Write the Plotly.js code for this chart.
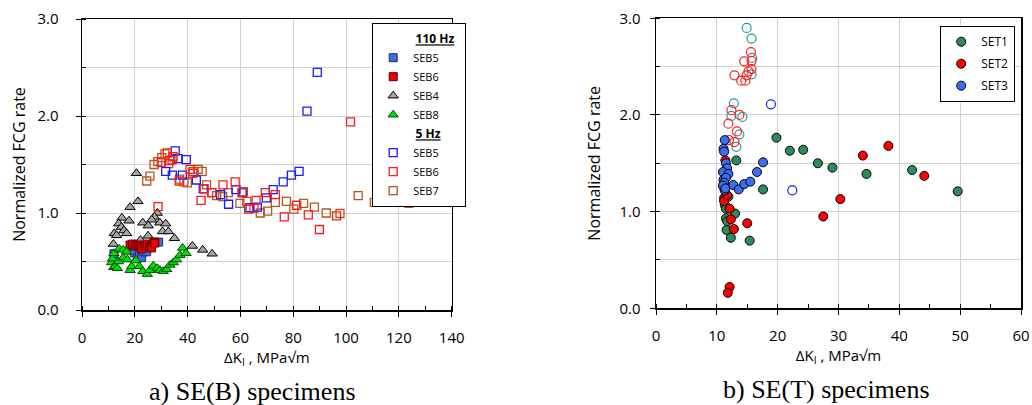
<!DOCTYPE html>
<html>
<head>
<meta charset="utf-8">
<script src="https://cdn.plot.ly/plotly-3.0.1.min.js"></script>
<style>html,body{margin:0;padding:0;background:#fff;}#chart{width:1032px;height:405px;}</style>
</head>
<body>
<div id="chart"></div>
<script>
// ---------- (a) SE(B) specimens ----------
const seb5_110_x = [12.1, 18.2, 19.8, 20.9, 21.7, 22.6, 23.2, 24.5, 29.0];
const seb5_110_y = [0.58, 0.62, 0.59, 0.535, 0.58, 0.54, 0.60, 0.60, 0.70];
const seb6_110_x = [18.2, 19.2, 20.4, 21.3, 22.0, 22.6, 23.9, 24.7, 25.7, 26.3, 27.3, 27.6];
const seb6_110_y = [0.67, 0.68, 0.66, 0.67, 0.65, 0.63, 0.66, 0.68, 0.655, 0.64, 0.70, 0.69];
const seb4_110_x = [20.6, 21.2, 18.2, 28.5, 27.4, 26.4, 15.1, 17.8, 13.9, 14.9, 15.9, 12.2, 16.9, 13.1, 11.9, 23.0, 25.1, 29.5, 31.7, 30.5, 32.7, 25.0, 35.0, 22.1, 41.8, 45.7, 49.3];
const seb4_110_y = [1.41, 1.12, 1.06, 1.00, 0.96, 0.93, 0.95, 0.92, 0.89, 0.855, 0.82, 0.79, 0.79, 0.77, 0.68, 0.90, 0.87, 0.90, 0.89, 0.81, 0.81, 0.765, 0.74, 0.72, 0.66, 0.62, 0.58];
const seb8_110_x = [11.2, 11.5, 12.0, 12.1, 12.5, 13.4, 13.8, 14.1, 15.6, 15.6, 16.9, 17.2, 18.2, 18.8, 20.4, 21.7, 23.0, 24.7, 25.7, 27.0, 28.5, 29.5, 30.8, 32.1, 33.3, 34.6, 35.8, 37.1, 38.1, 39.4];
const seb8_110_y = [0.49, 0.53, 0.44, 0.585, 0.45, 0.43, 0.50, 0.63, 0.62, 0.54, 0.60, 0.52, 0.41, 0.45, 0.51, 0.45, 0.40, 0.37, 0.41, 0.455, 0.43, 0.41, 0.40, 0.42, 0.465, 0.49, 0.52, 0.565, 0.64, 0.585];
const seb5_5_x = [31.7, 34.2, 35.3, 36.3, 38.0, 39.5, 43.3, 45.9, 52.5, 55.5, 58.3, 60.8, 63.6, 66.4, 69.8, 72.4, 76.2, 79.3, 82.2, 85.2, 89.1];
const seb5_5_y = [1.43, 1.39, 1.64, 1.56, 1.39, 1.55, 1.34, 1.25, 1.19, 1.09, 1.24, 1.21, 1.055, 1.06, 1.155, 1.24, 1.32, 1.39, 1.43, 2.05, 2.45];
const seb6_5_x = [28.8, 30.0, 32.3, 33.3, 34.5, 36.8, 40.9, 41.9, 45.1, 46.3, 49.2, 53.4, 58.0, 60.6, 63.1, 65.9, 69.4, 73.2, 76.6, 81.3, 85.7, 89.9, 96.4, 101.7];
const seb6_5_y = [1.065, 1.52, 1.62, 1.54, 1.58, 1.33, 1.45, 1.41, 1.13, 1.25, 1.21, 1.29, 1.32, 1.21, 1.04, 1.13, 1.21, 1.19, 0.96, 1.08, 0.98, 0.83, 0.97, 1.94];
const seb7_5_x = [24.5, 25.7, 27.3, 28.7, 30.2, 31.4, 32.8, 34.1, 37.0, 38.6, 39.9, 42.1, 44.0, 45.5, 47.2, 49.1, 51.0, 53.3, 55.4, 59.8, 61.1, 62.4, 65.1, 67.5, 70.3, 73.2, 77.4, 80.2, 83.9, 88.0, 92.5, 97.7, 104.6, 110.7, 117.1, 123.8];
const seb7_5_y = [1.33, 1.38, 1.50, 1.53, 1.57, 1.61, 1.51, 1.55, 1.35, 1.32, 1.31, 1.43, 1.45, 1.43, 1.29, 1.21, 1.18, 1.17, 1.21, 1.10, 1.22, 1.12, 1.05, 1.00, 1.02, 1.11, 1.12, 1.04, 1.10, 1.06, 1.00, 0.995, 1.18, 1.11, 1.15, 1.10];

// ---------- (b) SE(T) specimens ----------
const set1_x = [19.8, 22.0, 24.2, 26.6, 29.0, 34.6, 42.1, 49.6, 17.6, 13.2, 13.0, 11.5, 11.7, 11.6, 12.3, 15.4, 11.3, 11.5, 11.9, 11.2];
const set1_y = [1.765, 1.63, 1.64, 1.50, 1.455, 1.39, 1.43, 1.21, 1.23, 1.53, 0.98, 0.93, 0.90, 0.81, 0.73, 0.70, 1.07, 1.03, 1.155, 1.25];
const set2_x = [38.2, 34.0, 44.1, 30.3, 27.5, 15.0, 12.8, 12.3, 12.1, 11.2, 11.2, 11.7, 12.1, 11.8, 11.1, 11.4];
const set2_y = [1.68, 1.58, 1.37, 1.13, 0.95, 0.88, 0.82, 0.92, 1.03, 1.14, 1.11, 1.17, 0.22, 0.16, 1.26, 1.53];
const set3_x = [11.3, 11.1, 11.2, 11.5, 11.7, 11.0, 11.9, 11.1, 11.5, 11.2, 11.3, 11.0, 11.4, 12.7, 13.6, 14.5, 15.5, 16.6, 17.6];
const set3_y = [1.74, 1.65, 1.62, 1.50, 1.45, 1.41, 1.39, 1.33, 1.35, 1.30, 1.22, 1.27, 1.24, 1.275, 1.23, 1.285, 1.31, 1.41, 1.51];
const open_teal_x = [14.9, 15.7, 15.8, 15.7, 12.8, 12.4, 14.2, 13.7, 13.2];
const open_teal_y = [2.90, 2.79, 2.59, 2.42, 2.12, 1.99, 1.98, 1.80, 1.67];
const open_red_x = [15.6, 14.5, 15.7, 15.7, 15.2, 14.9, 12.9, 14.0, 14.7, 12.4, 13.7, 11.9, 13.3, 12.0, 12.9];
const open_red_y = [2.65, 2.555, 2.56, 2.475, 2.45, 2.41, 2.41, 2.355, 2.355, 2.05, 2.00, 1.91, 1.83, 1.74, 1.72];
const open_blue_x = [18.9, 22.4];
const open_blue_y = [2.11, 1.22];

const FONT = '"Open Sans", "Noto Sans", sans-serif';

function sq(name, x, y, fill, line, rank, group) {
  return {type:'scatter', mode:'markers', name:name, x:x, y:y, xaxis:'x', yaxis:'y',
    legend:'legend', legendgroup:group, legendrank:rank,
    marker:{symbol:'square', size:8, color:fill, line:{color:line, width:1}}};
}
function sqOpen(name, x, y, col, rank, group) {
  return {type:'scatter', mode:'markers', name:name, x:x, y:y, xaxis:'x', yaxis:'y',
    legend:'legend', legendgroup:group, legendrank:rank,
    marker:{symbol:'square-open', size:8, color:col, line:{color:col, width:1.3}}};
}
function tri(name, x, y, fill, line, rank, group) {
  return {type:'scatter', mode:'markers', name:name, x:x, y:y, xaxis:'x', yaxis:'y',
    legend:'legend', legendgroup:group, legendrank:rank,
    marker:{symbol:'triangle-up', size:9, color:fill, line:{color:line, width:1}}};
}
function circ(name, x, y, fill, rank) {
  return {type:'scatter', mode:'markers', name:name, x:x, y:y, xaxis:'x2', yaxis:'y2',
    legend:'legend2', legendgroup:name, legendrank:rank,
    marker:{symbol:'circle', size:9, color:fill, line:{color:'#000', width:1}}};
}
function circOpen(name, x, y, col) {
  return {type:'scatter', mode:'markers', name:name, x:x, y:y, xaxis:'x2', yaxis:'y2',
    showlegend:false,
    marker:{symbol:'circle-open', size:9, color:col, line:{color:col, width:1.2}}};
}

const IND = '&nbsp;&nbsp;&nbsp;&nbsp;&nbsp;&nbsp;&nbsp;&nbsp;&nbsp;&nbsp;&nbsp;&nbsp;';
const g1 = {text:IND + '<b><u>110 Hz</u></b>', font:{family:FONT, size:12, color:'#000'}};
const g2 = {text:IND + '<b><u>5 Hz</u></b>', font:{family:FONT, size:12, color:'#000'}};

const t_seb4 = tri('SEB4', seb4_110_x, seb4_110_y, '#a6a6a6', '#000', 3, 'g110');
const t_seb5 = sq('SEB5', seb5_110_x, seb5_110_y, '#3a6fdc', '#1c2c70', 1, 'g110');
const t_seb6 = sq('SEB6', seb6_110_x, seb6_110_y, '#ee0000', '#5a0000', 2, 'g110');
const t_seb8 = tri('SEB8', seb8_110_x, seb8_110_y, '#00dd00', '#0a4a0a', 4, 'g110');
t_seb5.legendgrouptitle = g1;
const t_seb7o = sqOpen('SEB7', seb7_5_x, seb7_5_y, '#b5561f', 7, 'g5');
const t_seb5o = sqOpen('SEB5', seb5_5_x, seb5_5_y, '#1a1aff', 5, 'g5');
const t_seb6o = sqOpen('SEB6', seb6_5_x, seb6_5_y, '#ff1a1a', 6, 'g5');
t_seb5o.legendgrouptitle = g2;

const data = [
  t_seb4, t_seb5, t_seb6, t_seb8, t_seb7o, t_seb5o, t_seb6o,
  circOpen('open teal', open_teal_x, open_teal_y, '#1f9e9e'),
  circOpen('open red', open_red_x, open_red_y, '#ff2020'),
  circOpen('open blue', open_blue_x, open_blue_y, '#2020ff'),
  circ('SET1', set1_x, set1_y, '#2e8b5a', 1),
  circ('SET2', set2_x, set2_y, '#ff0000', 2),
  circ('SET3', set3_x, set3_y, '#3a6ff0', 3)
];

function xax(domain, range, dtick, minor, anchor) {
  return {domain:domain, range:range, dtick:dtick, tick0:0, anchor:anchor,
    showline:true, linecolor:'#000', linewidth:1.5, mirror:true,
    showgrid:true, gridcolor:'#d0d0d0', gridwidth:1, zeroline:false,
    ticks:'outside', ticklen:5, tickcolor:'#000', tickwidth:1, ticklabelstandoff:8,
    tickfont:{family:FONT, size:15, color:'#000'},
    minor:{dtick:minor, ticks:'inside', ticklen:4, tickcolor:'#000', showgrid:false},
    title:{text:'ΔK<sub>I</sub> , MPa√m', font:{family:FONT, size:15, color:'#000'}, standoff:0},
    fixedrange:true};
}
function yax(domain, anchor, labStand, titleStand) {
  return {domain:domain, range:[0,3], dtick:1, tick0:0, anchor:anchor, tickformat:'.1f',
    showline:true, linecolor:'#000', linewidth:1.5, mirror:true,
    showgrid:true, gridcolor:'#d0d0d0', gridwidth:1, zeroline:false,
    ticks:'outside', ticklen:5, tickcolor:'#000', tickwidth:1, ticklabelstandoff:labStand,
    tickfont:{family:FONT, size:15, color:'#000'},
    minor:{dtick:0.5, ticks:'inside', ticklen:4, tickcolor:'#000', showgrid:true, gridcolor:'#d0d0d0'},
    title:{text:'Normalized FCG rate', font:{family:FONT, size:16, color:'#000'}, standoff:titleStand},
    fixedrange:true};
}

const layout = {
  width:1032, height:405,
  margin:{l:0, r:0, t:0, b:0},
  paper_bgcolor:'#fff', plot_bgcolor:'#fff',
  showlegend:true,
  xaxis: xax([82/1032, 451.7/1032], [0,140], 20, 10, 'y'),
  yaxis: yax([95/405, 386/405], 'x', 14, 8),
  xaxis2: xax([656/1032, 1021/1032], [0,60], 10, 5, 'y2'),
  yaxis2: yax([96.7/405, 386.7/405], 'x2', 6, 15),
  legend:{x:372/1032, y:1-23/405, xanchor:'left', yanchor:'top',
    bgcolor:'#fff', bordercolor:'#000', borderwidth:1.2,
    font:{family:FONT, size:11, color:'#000'}, traceorder:'grouped', tracegroupgap:0,
    itemwidth:30},
  legend2:{x:940/1032, y:1-26/405, xanchor:'left', yanchor:'top',
    bgcolor:'#fff', bordercolor:'#000', borderwidth:1.2,
    font:{family:FONT, size:12, color:'#000'}, traceorder:'grouped', tracegroupgap:3,
    itemwidth:30},
  annotations:[
    {text:'a) SE(B) specimens', xref:'paper', yref:'paper', x:252/1032, y:1-391/405,
     showarrow:false, xanchor:'center', yanchor:'middle',
     font:{family:'"Liberation Serif", "Times New Roman", serif', size:26, color:'#000'}},
    {text:'b) SE(T) specimens', xref:'paper', yref:'paper', x:826/1032, y:1-389/405,
     showarrow:false, xanchor:'center', yanchor:'middle',
     font:{family:'"Liberation Serif", "Times New Roman", serif', size:26, color:'#000'}}
  ]
};

Plotly.newPlot('chart', data, layout, {staticPlot:true, displayModeBar:false});
</script>
</body>
</html>
